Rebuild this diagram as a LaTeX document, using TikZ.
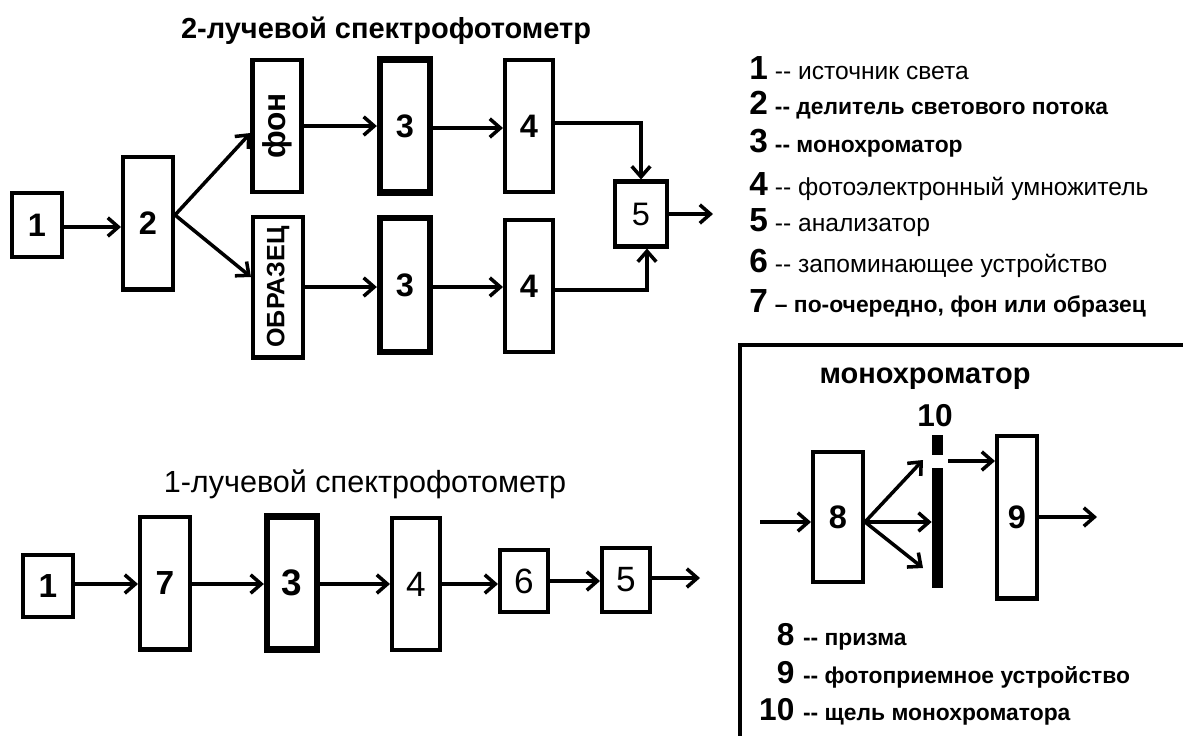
\documentclass[tikz,border=0pt]{standalone}
\usepackage{fontspec}
\setmainfont{Liberation Sans}
\usetikzlibrary{arrows.meta}

\newcommand{\fsz}[1]{\fontsize{#1}{#1}\selectfont}

\begin{document}
\begin{tikzpicture}[x=0.02cm, y=-0.02cm,
        blk/.style={draw, line width=2.3pt, inner sep=0pt, font=\fsz{18.5}\bfseries},
        thickblk/.style={blk, line width=3.6pt},
        slitbar/.style={fill=black, inner sep=0pt, minimum width=0.22cm},
        flow/.style={line width=2pt, -{Straight Barb[length=6pt,width=10.5pt]}},
        legtxt/.style={anchor=west, inner sep=0pt}]
        \useasboundingbox (0,0) rectangle (1183,735);

        % 2-beam spectrophotometer
        \node[font=\fsz{16.5}\bfseries] (title2) at (386,31) {2-лучевой спектрофотометр};
        \node[blk, minimum width=1.0cm, minimum height=1.28cm] (src) at (37,225) {1};
        \node[blk, minimum width=1.0cm, minimum height=2.66cm] (split) at (148,223) {2};
        \node[blk, minimum width=0.98cm, minimum height=2.64cm] (fon) at (277,126)
            {\fsz{18}\rotatebox{90}{фон}};
        \node[blk, minimum width=1.0cm, minimum height=2.82cm] (obr) at (278,287)
            {\fsz{14.3}\rotatebox{90}{ОБРАЗЕЦ}};
        \node[thickblk, minimum width=1.0cm, minimum height=2.66cm] (monoA) at (405,126) {3};
        \node[thickblk, minimum width=1.0cm, minimum height=2.68cm] (monoB) at (405,285) {3};
        \node[blk, minimum width=0.96cm, minimum height=2.64cm] (pmtA) at (529,126) {4};
        \node[blk, minimum width=0.96cm, minimum height=2.64cm] (pmtB) at (529,286) {4};
        \node[blk, font=\fsz{18.5}, minimum width=1.04cm, minimum height=1.3cm] (anlz) at (641,214) {5};
        \coordinate (out2) at (713,214);

        \draw[flow] (src.east |- 0,227) -- (split.west |- 0,227);
        \draw[flow] ([yshift=0.16cm]split.east) -- ([yshift=-0.14cm]fon.west);
        \draw[flow] ([yshift=0.16cm]split.east) -- ([yshift=0.2cm]obr.west);
        \draw[flow] (fon) -- (monoA);
        \draw[flow] (monoA.east |- 0,128) -- (pmtA.west |- 0,128);
        \draw[flow] (obr.east |- 0,287) -- (monoB.west |- 0,287);
        \draw[flow] (monoB.east |- 0,287) -- (pmtB.west |- 0,287);
        \draw[flow] ([yshift=0.06cm]pmtA.east) -| (anlz.north);
        \draw[flow] ([yshift=-0.08cm]pmtB.east) -| ([xshift=0.12cm]anlz.south);
        \draw[flow] (anlz) -- (out2);

        % legend
        \foreach \n/\y/\wt/\sz/\txt in {
            1/68/\mdseries/14/{-{}- источник света},
            2/105/\bfseries/13/{-{}- делитель светового потока},
            3/143/\bfseries/13/{-{}- монохроматор},
            4/187/\mdseries/14/{-{}- фотоэлектронный умножитель},
            5/223/\mdseries/14/{-{}- анализатор},
            6/263/\mdseries/14/{-{}- запоминающее устройство},
            7/303/\bfseries/13/{– по-очередно, фон или образец}}
            \node[legtxt] (leg\n) at (749,\y)
                {{\fsz{19}\bfseries\n}\hspace{4pt}{\fsz{\sz}\wt\txt}};

        % 1-beam spectrophotometer
        \node[font=\fsz{17.4}] (title1) at (365,484) {1-лучевой спектрофотометр};
        \node[blk, font=\fsz{19}\bfseries, minimum width=1.0cm, minimum height=1.24cm] (src1) at (48,586) {1};
        \node[blk, font=\fsz{19}\bfseries, minimum width=1.0cm, minimum height=2.66cm] (alt1) at (165,583) {7};
        \node[thickblk, font=\fsz{21}\bfseries, minimum width=1.0cm, minimum height=2.66cm] (mono1) at (292,583) {3};
        \node[blk, font=\fsz{20}, minimum width=0.96cm, minimum height=2.64cm] (pmt1) at (416,584) {4};
        \node[blk, font=\fsz{20}, minimum width=0.96cm, minimum height=1.24cm] (mem1) at (524,581) {6};
        \node[blk, font=\fsz{20}, minimum width=0.96cm, minimum height=1.28cm] (anlz1) at (626,580) {5};
        \coordinate (out1) at (700,578);
        \coordinate (lvl) at (0,584);

        \draw[flow] (src1.east |- lvl) -- (alt1.west |- lvl);
        \draw[flow] (alt1.east |- lvl) -- (mono1.west |- lvl);
        \draw[flow] (mono1.east |- lvl) -- (pmt1.west |- lvl);
        \draw[flow] (pmt1.east |- lvl) -- (mem1.west |- lvl);
        \draw[flow] (mem1.east) -- (mem1.east -| anlz1.west);
        \draw[flow] (anlz1.east |- out1) -- (out1);

        % monochromator
        \draw[line width=2pt] (740,740) -- (740,345) -- (1190,345);
        \node[font=\fsz{16.5}\bfseries] (titlem) at (925,379) {монохроматор};
        \node[font=\fsz{18}\bfseries, inner sep=0pt] (lab10) at (935,416) {10};
        \node[slitbar, minimum height=0.4cm] (slitU) at (937.5,445) {};
        \node[slitbar, minimum height=2.4cm] (slitL) at (937.5,528) {};
        \node[blk, minimum width=1.0cm, minimum height=2.6cm] (prism) at (838,517) {8};
        \node[blk, minimum width=0.8cm, minimum height=3.26cm] (det) at (1017,517) {9};
        \coordinate (in8) at (760,522);
        \coordinate (fanO) at (865,522);
        \coordinate (fanU) at (923,460);
        \coordinate (fanD) at (923,568);
        \coordinate (gapR) at (948,461);
        \coordinate (out9) at (1097,517);

        \draw[flow] (in8) -- (in8 -| prism.west);
        \draw[flow] (fanO) -- (fanU);
        \draw[flow] (fanO) -- (fanO -| slitL.west);
        \draw[flow] (fanO) -- (fanD);
        \draw[flow] (gapR) -- (gapR -| det.west);
        \draw[flow] (det) -- (out9);

        \foreach \n/\y/\txt in {8/637/призма, 9/675/фотоприемное устройство,
            10/712/щель монохроматора}
            \node[legtxt] (legm\n) at (757,\y)
                {\hbox to 0.74cm{\hfill\fsz{18}\bfseries\n}\hspace{5pt}{\fsz{13}\bfseries -{}- \txt}};
    \end{tikzpicture}
\end{document}
